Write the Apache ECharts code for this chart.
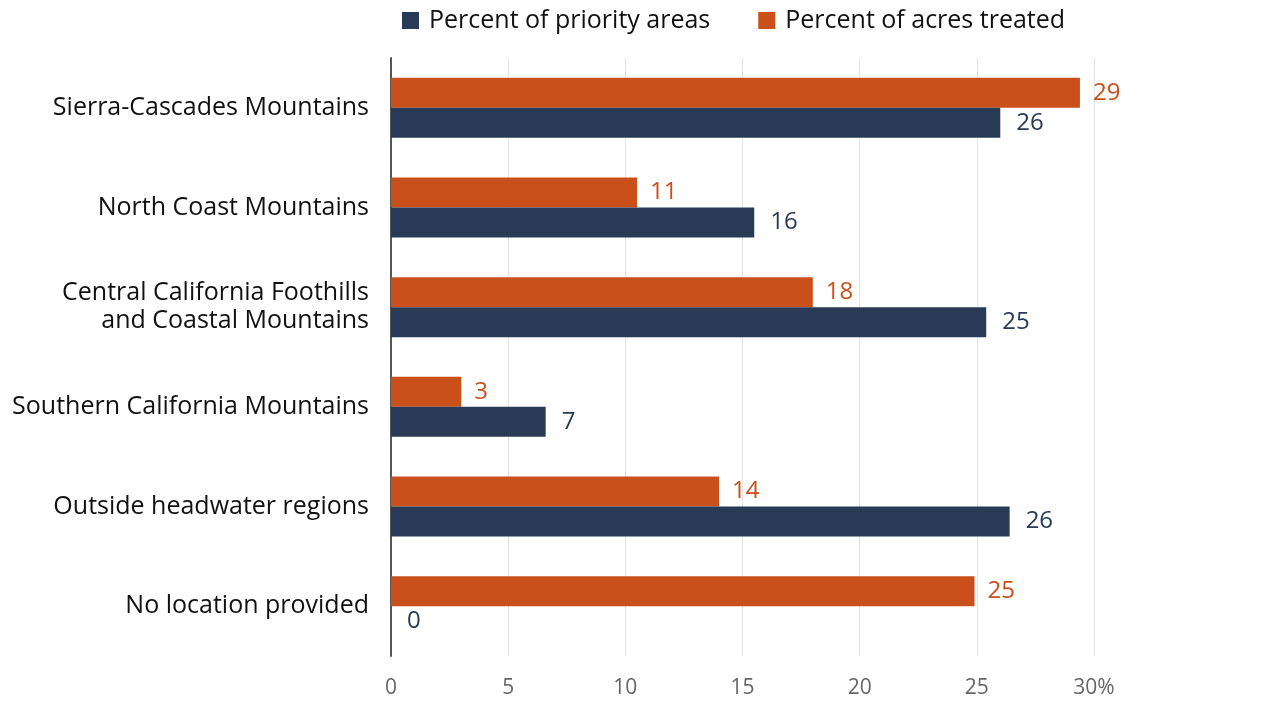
<!DOCTYPE html>
<html>
<head>
<meta charset="utf-8">
<script src="https://cdn.jsdelivr.net/npm/echarts@6/dist/echarts.min.js"></script>
<style>
  html, body { margin: 0; padding: 0; background: #fff; }
  #chart { width: 1280px; height: 704px; }
</style>
</head>
<body>
<div id="chart"></div>
<script>
var categories = [
  'Sierra-Cascades Mountains',
  'North Coast Mountains',
  'Central California Foothills\nand Coastal Mountains',
  'Southern California Mountains',
  'Outside headwater regions',
  'No location provided'
];
var priorityAreas = [26.0, 15.5, 25.4, 6.6, 26.4, 0];
var acresTreated = [29.4, 10.5, 18.0, 3.0, 14.0, 24.9];
var xTicks = [0, 5, 10, 15, 20, 25, 30];

var navy = '#283a55';
var orange = '#c94f1b';
var font = '"Open Sans", Lato, sans-serif';

var myChart = echarts.init(document.getElementById('chart'));

function labelOf(color, dist) {
  return {
    show: true,
    position: 'right',
    distance: dist,
    color: color,
    fontSize: 24,
    fontFamily: font,
    formatter: function (p) { return Math.round(p.value); }
  };
}

var option = {
  animation: false,
  textStyle: { fontFamily: font },
  legend: {
    data: ['Percent of priority areas', 'Percent of acres treated'],
    top: 3,
    left: 397,
    icon: 'rect',
    itemWidth: 17,
    itemHeight: 17,
    itemGap: 48,
    textStyle: { fontSize: 25, color: '#111', fontFamily: font, padding: [0, 0, 0, 5] }
  },
  grid: {
    left: 391,
    right: 186,
    top: 58,
    bottom: 48,
    containLabel: false
  },
  xAxis: {
    type: 'value',
    min: 0,
    max: 30,
    interval: 5,
    axisLine: { show: false },
    axisTick: { show: false },
    splitLine: {
      show: true,
      showMinLine: false,
      lineStyle: { color: '#e3e3e3', width: 1 }
    },
    axisLabel: {
      color: '#666',
      fontSize: 21,
      margin: 22,
      fontFamily: font,
      formatter: function (v) {
        return v === xTicks[xTicks.length - 1] ? v + '%' : String(v);
      }
    }
  },
  yAxis: {
    type: 'category',
    inverse: true,
    data: categories,
    axisLine: { show: true, lineStyle: { color: '#555', width: 2 } },
    axisTick: { show: false },
    axisLabel: {
      color: '#111',
      fontSize: 25,
      lineHeight: 28,
      margin: 22,
      align: 'right',
      fontFamily: font
    }
  },
  series: [
    {
      name: 'Percent of acres treated',
      type: 'bar',
      data: acresTreated,
      barWidth: 30,
      barGap: '0%',
      itemStyle: { color: orange },
      label: labelOf(orange, 13)
    },
    {
      name: 'Percent of priority areas',
      type: 'bar',
      data: priorityAreas,
      barWidth: 30,
      barGap: '0%',
      itemStyle: { color: navy },
      label: labelOf(navy, 16)
    }
  ]
};

myChart.setOption(option);
</script>
</body>
</html>
